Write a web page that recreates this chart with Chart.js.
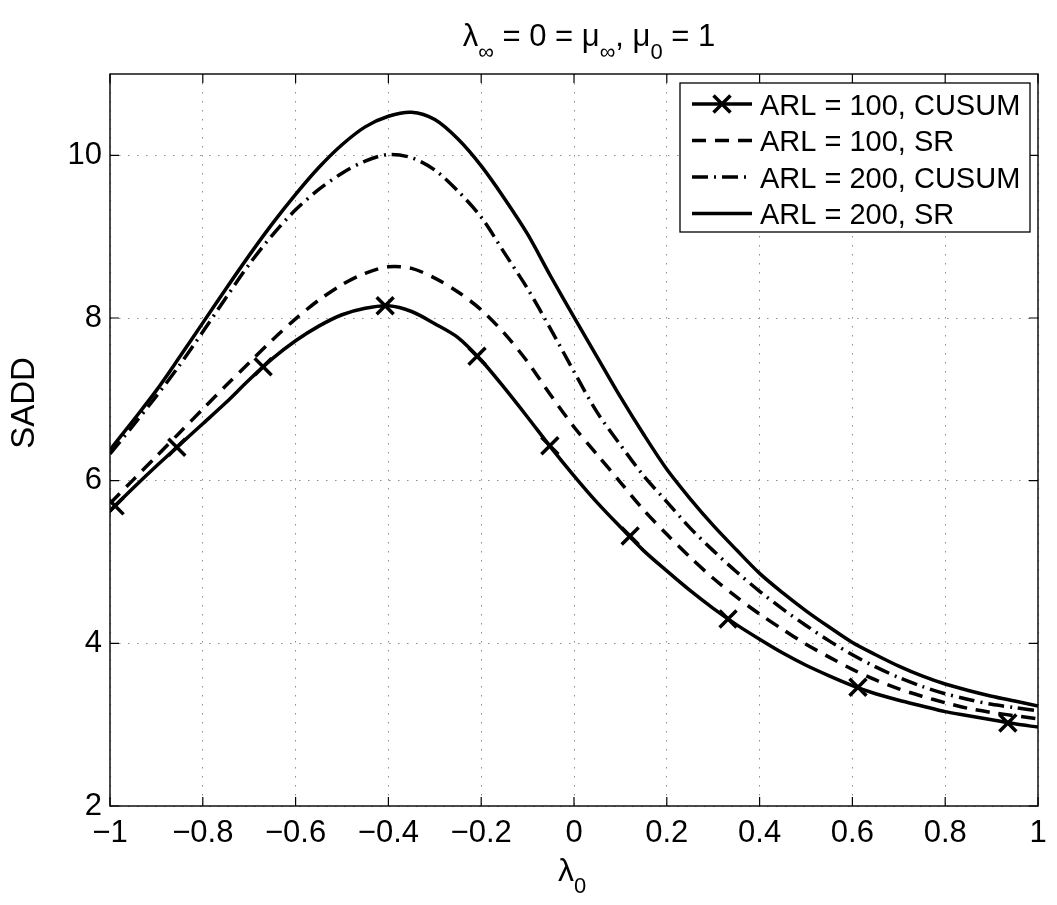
<!DOCTYPE html>
<html>
<head>
<meta charset="utf-8">
<script src="https://cdn.jsdelivr.net/npm/chart.js@4.4.0/dist/chart.umd.min.js"></script>
<style>
html,body{margin:0;padding:0;background:#fff;}
#wrap{width:1057px;height:905px;position:relative;}
</style>
</head>
<body>
<div id="wrap"><canvas id="c" width="1057" height="905"></canvas></div>
<script>
// ---- data ----
const lambda0 = [-1.00,-0.95,-0.90,-0.85,-0.80,-0.75,-0.70,-0.65,-0.60,-0.55,
                 -0.50,-0.45,-0.40,-0.35,-0.30,-0.25,-0.20,-0.15,-0.10,-0.05,
                  0.00, 0.05, 0.10, 0.15, 0.20, 0.25, 0.30, 0.35, 0.40, 0.45,
                  0.50, 0.55, 0.60, 0.65, 0.70, 0.75, 0.80, 0.85, 0.90, 0.95, 1.00];
const saddCusum100 = [5.63,5.91,6.18,6.44,6.70,6.96,7.24,7.50,7.72,7.90,
                      8.04,8.12,8.15,8.08,7.93,7.76,7.48,7.14,6.78,6.41,
                      6.06,5.73,5.43,5.14,4.89,4.65,4.43,4.23,4.05,3.88,
                      3.73,3.60,3.48,3.38,3.30,3.23,3.16,3.11,3.06,3.01,2.97];
const saddSr100 = [5.72,6.01,6.30,6.59,6.88,7.17,7.45,7.73,7.99,8.22,
                   8.41,8.55,8.63,8.61,8.49,8.32,8.10,7.81,7.46,7.05,
                   6.66,6.32,5.98,5.64,5.34,5.06,4.80,4.57,4.36,4.17,
                   3.99,3.83,3.68,3.55,3.44,3.35,3.27,3.20,3.15,3.11,3.07];
const saddCusum200 = [6.33,6.68,7.04,7.42,7.83,8.25,8.66,9.02,9.33,9.58,
                      9.78,9.93,10.01,9.97,9.82,9.56,9.24,8.80,8.36,7.86,
                      7.34,6.84,6.44,6.06,5.74,5.42,5.14,4.88,4.64,4.42,
                      4.22,4.03,3.86,3.71,3.58,3.47,3.38,3.31,3.25,3.21,3.17];
const saddSr200 = [6.38,6.74,7.11,7.52,7.94,8.36,8.77,9.16,9.52,9.85,
                   10.13,10.35,10.48,10.53,10.44,10.20,9.87,9.47,9.03,8.51,
                   8.01,7.52,7.03,6.57,6.14,5.78,5.45,5.15,4.86,4.62,
                   4.40,4.20,4.01,3.86,3.72,3.60,3.50,3.42,3.35,3.29,3.23];
const cusum100MarkerLambda = [-0.989,-0.856,-0.670,-0.407,-0.209,-0.052,0.121,0.332,0.612,0.935];
const cusum100MarkerSadd   = [5.69,6.41,7.40,8.15,7.53,6.43,5.32,4.30,3.46,3.02];
const seriesLabels = ['ARL = 100, CUSUM','ARL = 100, SR','ARL = 200, CUSUM','ARL = 200, SR'];
const xTicks = [-1,-0.8,-0.6,-0.4,-0.2,0,0.2,0.4,0.6,0.8,1];
const yTicks = [2,4,6,8,10];
const xRange = [-1, 1];
const yRange = [2, 11];

// ---- chart ----
const FONT = "'Liberation Sans', Arial, Helvetica, sans-serif";
function xy(xs, ys){ return xs.map((x,i)=>({x:x, y:ys[i]})); }
function fmt(v){
  const r = Math.round(v*10)/10;
  const s = (Math.abs(r) < 1e-9) ? '0' : String(r);
  return s.replace('-', '\u2212');
}

const lineBase = {borderColor:'#000', backgroundColor:'#000', borderWidth:3.5, pointRadius:0,
                  fill:false, tension:0.3, borderJoinStyle:'round', borderCapStyle:'butt'};
const datasets = [
  Object.assign({}, lineBase, {label:seriesLabels[0], data:xy(lambda0, saddCusum100), borderDash:[], legendMarker:true}),
  Object.assign({}, lineBase, {label:seriesLabels[1], data:xy(lambda0, saddSr100), borderDash:[14,9]}),
  Object.assign({}, lineBase, {label:seriesLabels[2], data:xy(lambda0, saddCusum200), borderDash:[16,6,2,6]}),
  Object.assign({}, lineBase, {label:seriesLabels[3], data:xy(lambda0, saddSr200), borderDash:[]}),
  {label:'markers', data:xy(cusum100MarkerLambda, cusum100MarkerSadd), showLine:false,
   pointStyle:'crossRot', pointRadius:12, pointBorderWidth:3.5, pointBorderColor:'#000',
   pointBackgroundColor:'#000', borderColor:'#000', isMarkers:true}
];

function drawSubText(ctx, pieces, cx, baseline, size, subSize, subDrop){
  let total = 0;
  const widths = pieces.map(p=>{
    ctx.font = (p[1]?subSize:size) + 'px ' + FONT;
    const w = ctx.measureText(p[0]).width; total += w; return w;
  });
  let x = cx - total/2;
  ctx.textAlign = 'left';
  ctx.textBaseline = 'alphabetic';
  pieces.forEach((p,i)=>{
    ctx.font = (p[1]?subSize:size) + 'px ' + FONT;
    ctx.fillText(p[0], x, baseline + (p[1]?subDrop:0));
    x += widths[i];
  });
}

const decor = {
  id:'decor',
  afterDraw(chart){
    const ctx = chart.ctx, a = chart.chartArea;
    const xs = chart.scales.x, ys = chart.scales.y;
    ctx.save();
    ctx.strokeStyle = '#000'; ctx.fillStyle = '#000';
    ctx.lineWidth = 1.4;
    ctx.setLineDash([]);
    ctx.strokeRect(a.left, a.top, a.right - a.left, a.bottom - a.top);
    ctx.lineWidth = 1.2;
    const tl = 9;
    ctx.beginPath();
    xTicks.forEach(v=>{
      const px = xs.getPixelForValue(v);
      ctx.moveTo(px, a.bottom); ctx.lineTo(px, a.bottom - tl);
      ctx.moveTo(px, a.top); ctx.lineTo(px, a.top + tl);
    });
    yTicks.forEach(v=>{
      const py = ys.getPixelForValue(v);
      ctx.moveTo(a.left, py); ctx.lineTo(a.left + tl, py);
      ctx.moveTo(a.right, py); ctx.lineTo(a.right - tl, py);
    });
    ctx.stroke();

    // title
    drawSubText(ctx, [['\u03bb',false],['\u221e',true],[' = 0 = \u03bc',false],['\u221e',true],[', \u03bc',false],['0',true],[' = 1',false]],
                589, 46, 31, 22, 13);
    // x label
    drawSubText(ctx, [['\u03bb',false],['0',true]], 572, 881, 32, 22, 12);
    // y label
    ctx.save();
    ctx.translate(25, 403);
    ctx.rotate(-Math.PI/2);
    ctx.font = '33px ' + FONT;
    ctx.textAlign = 'center'; ctx.textBaseline = 'middle';
    ctx.fillText('SADD', 0, 0);
    ctx.restore();

    // legend
    const L = {left:680, top:83, right:1030, bottom:232};
    ctx.fillStyle = '#fff';
    ctx.fillRect(L.left, L.top, L.right-L.left, L.bottom-L.top);
    ctx.lineWidth = 1.3; ctx.strokeStyle = '#000';
    ctx.strokeRect(L.left, L.top, L.right-L.left, L.bottom-L.top);
    const rows = [104, 140.5, 177, 213.5];
    const lx0 = 692, lx1 = 752, tx = 760;
    chart.data.datasets.filter(d=>!d.isMarkers).forEach((d,i)=>{
      const y = rows[i];
      ctx.save();
      ctx.strokeStyle = d.borderColor; ctx.lineWidth = d.borderWidth;
      ctx.lineCap = 'butt';
      ctx.setLineDash(d.borderDash || []);
      ctx.beginPath(); ctx.moveTo(lx0, y); ctx.lineTo(lx1, y); ctx.stroke();
      ctx.setLineDash([]);
      if (d.legendMarker){
        const m = chart.data.datasets.find(q=>q.isMarkers);
        const r = m.pointRadius * Math.SQRT1_2;
        ctx.lineWidth = m.pointBorderWidth;
        const cx = (lx0+lx1)/2;
        ctx.beginPath();
        ctx.moveTo(cx-r, y-r); ctx.lineTo(cx+r, y+r);
        ctx.moveTo(cx-r, y+r); ctx.lineTo(cx+r, y-r);
        ctx.stroke();
      }
      ctx.restore();
      ctx.fillStyle = '#000';
      ctx.font = '29px ' + FONT;
      ctx.textAlign = 'left'; ctx.textBaseline = 'alphabetic';
      ctx.fillText(d.label, tx, y + 10.5);
    });
    ctx.restore();
  }
};

new Chart(document.getElementById('c'), {
  type:'line',
  data:{datasets:datasets},
  options:{
    responsive:false, animation:false, devicePixelRatio:1,
    layout:{padding:{left:0, right:19, top:74, bottom:0}},
    plugins:{legend:{display:false}, tooltip:{enabled:false}, title:{display:false}},
    scales:{
      x:{type:'linear', min:xRange[0], max:xRange[1],
         afterBuildTicks:s=>{ s.ticks = xTicks.map(v=>({value:v})); },
         afterFit:s=>{ s.height = 99; },
         ticks:{autoSkip:false, maxRotation:0, minRotation:0, padding:9, color:'#000',
                font:{family:FONT, size:31}, callback:v=>fmt(v)},
         grid:{color:'#8f8f8f', lineWidth:1, drawTicks:false},
         border:{display:false, dash:[1.5,7.5]}},
      y:{type:'linear', min:yRange[0], max:yRange[1],
         afterBuildTicks:s=>{ s.ticks = yTicks.map(v=>({value:v})); },
         afterFit:s=>{ s.width = 110; },
         ticks:{autoSkip:false, padding:8, color:'#000',
                font:{family:FONT, size:31}, callback:v=>fmt(v)},
         grid:{color:'#8f8f8f', lineWidth:1, drawTicks:false},
         border:{display:false, dash:[1.5,7.5]}}
    }
  },
  plugins:[decor]
});
</script>
</body>
</html>
